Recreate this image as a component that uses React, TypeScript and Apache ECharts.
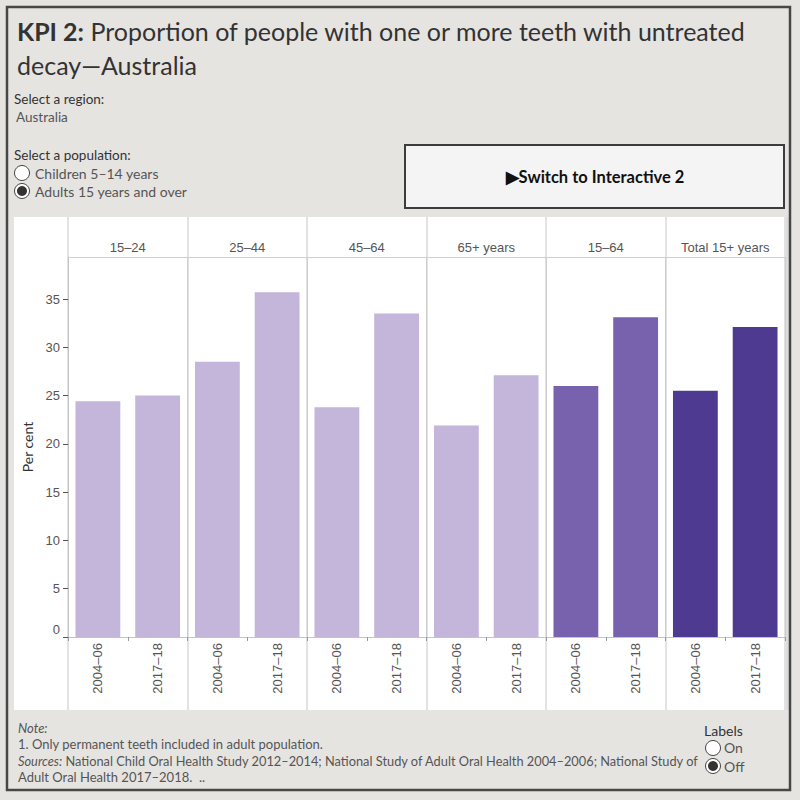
import React, { useEffect, useRef } from 'react';
import * as echarts from 'echarts';

const groups = ['15–24', '25–44', '45–64', '65+ years', '15–64', 'Total 15+ years'];
const periods = ['2004–06', '2017–18'];
const values0406 = [24.4, 28.5, 23.8, 21.9, 26.0, 25.5];
const values1718 = [25.0, 35.7, 33.5, 27.1, 33.1, 32.1];
const groupColors = ['#c4b5db', '#c4b5db', '#c4b5db', '#c4b5db', '#7862ae', '#4e3a91'];
const yTicks = [0, 5, 10, 15, 20, 25, 30, 35];
const yMax = 39.35;

const AX_FONT = '"Liberation Sans", Arial, sans-serif';
const UI_FONT = 'Lato, "Noto Sans", sans-serif';

export default function App() {
  const ref = useRef<HTMLDivElement>(null);
  useEffect(() => {
    if (!ref.current) return;
    const chart = echarts.init(ref.current, undefined, { renderer: 'svg' });

    const categories: string[] = [];
    const barData: any[] = [];
    groups.forEach((g, gi) => {
      const vals = [values0406[gi], values1718[gi]];
      periods.forEach((p, pi) => {
        categories.push(g + '|' + p);
        barData.push({ value: vals[pi], itemStyle: { color: groupColors[gi] } });
      });
    });

    const L = 68;
    const W = 717;

    const txt = (x: number, y: number, text: string, extra: any = {}) => ({
      type: 'text',
      x,
      y,
      style: {
        text,
        fill: '#444',
        font: '14px ' + UI_FONT,
        textVerticalAlign: 'middle',
        ...extra,
      },
    });

    const option: any = {
      animation: false,
      backgroundColor: '#e6e4e1',
      grid: [
        { left: L, top: 217, width: W, height: 493, outerBoundsMode: 'none' },
        { left: L, top: 217, width: W, height: 40, outerBoundsMode: 'none' },
        { left: L, top: 257, width: W, height: 380, outerBoundsMode: 'none' },
      ],
      xAxis: [
        {
          gridIndex: 0,
          type: 'category',
          data: groups,
          axisLine: { show: false },
          axisTick: { show: false },
          axisLabel: { show: false },
          splitLine: { show: true, lineStyle: { color: '#e2e2e2', width: 2 } },
        },
        {
          gridIndex: 1,
          type: 'category',
          data: groups,
          position: 'bottom',
          axisLine: { show: true, lineStyle: { color: '#d0d0d0', width: 1 } },
          axisTick: { show: false },
          axisLabel: {
            inside: true,
            margin: 3,
            color: '#555',
            fontSize: 13,
            fontFamily: AX_FONT,
          },
          splitLine: { show: false },
        },
        {
          gridIndex: 2,
          type: 'category',
          data: categories,
          axisLine: { show: true, lineStyle: { color: '#c4c4c4', width: 1 } },
          axisTick: { show: true, length: 4, lineStyle: { color: '#999' } },
          axisLabel: {
            rotate: 90,
            margin: 6,
            color: '#555',
            fontSize: 13,
            fontFamily: AX_FONT,
            interval: 0,
            formatter: (v: string) => v.split('|')[1],
          },
          splitLine: {
            show: true,
            interval: (i: number) => i % 2 === 0,
            lineStyle: { color: '#cdcdcd', width: 1 },
          },
        },
      ],
      yAxis: [
        { gridIndex: 0, type: 'value', show: false, splitLine: { show: false } },
        { gridIndex: 1, type: 'value', show: false, splitLine: { show: false } },
        {
          gridIndex: 2,
          type: 'value',
          min: 0,
          max: yMax,
          interval: 5,
          name: 'Per cent',
          nameLocation: 'middle',
          nameGap: 32,
          nameRotate: 90,
          nameTextStyle: { color: '#333', fontSize: 14, fontFamily: UI_FONT },
          axisLine: { show: true, lineStyle: { color: '#c4c4c4' } },
          axisTick: { show: true, length: 5, customValues: yTicks, lineStyle: { color: '#555' } },
          axisLabel: {
            customValues: yTicks,
            margin: 8,
            color: '#555',
            fontSize: 13,
            fontFamily: AX_FONT,
            formatter: (v: number) => (v === 0 ? '{z|0}' : String(v)),
            rich: {
              z: { padding: [0, 0, 16, 0], color: '#555', fontSize: 13, fontFamily: AX_FONT },
            },
          },
          splitLine: { show: false },
        },
      ],
      series: [
        {
          type: 'bar',
          xAxisIndex: 2,
          yAxisIndex: 2,
          data: barData,
          barCategoryGap: '25%',
          z: 3,
        },
      ],
      graphic: [
        {
          type: 'rect',
          z: -100,
          shape: { x: 14, y: 217, width: 771, height: 493 },
          style: { fill: '#ffffff' },
        },
        {
          type: 'rect',
          z: -100,
          shape: { x: 785, y: 217, width: 5, height: 493 },
          style: { fill: '#dcdcdc' },
        },
        {
          type: 'rect',
          z: 100,
          shape: { x: 7, y: 7, width: 783, height: 783 },
          style: { fill: 'none', stroke: '#474747', lineWidth: 2.5 },
        },
        {
          type: 'text',
          x: 17,
          y: 31,
          style: {
            text: '{b|KPI 2:} Proportion of people with one or more teeth with untreated',
            rich: {
              b: { font: 'bold 25px ' + UI_FONT, fill: '#333' },
            },
            font: '25px ' + UI_FONT,
            fill: '#333',
            textVerticalAlign: 'middle',
          },
        },
        txt(17, 65, 'decay—Australia', { font: '25px ' + UI_FONT, fill: '#333' }),
        txt(14, 99, 'Select a region:', { fill: '#333', font: '13.5px ' + UI_FONT }),
        txt(16, 117, 'Australia', { fill: '#555', font: '13.5px ' + UI_FONT }),
        txt(14, 155, 'Select a population:', { fill: '#333', font: '13.5px ' + UI_FONT }),
        {
          type: 'circle',
          shape: { cx: 22, cy: 173, r: 7.5 },
          style: { fill: '#ffffff', stroke: '#444', lineWidth: 1 },
        },
        txt(35, 173, 'Children 5–14 years', { fill: '#555' }),
        {
          type: 'circle',
          shape: { cx: 22, cy: 191, r: 7.5 },
          style: { fill: '#ffffff', stroke: '#444', lineWidth: 1 },
        },
        {
          type: 'circle',
          shape: { cx: 22, cy: 191, r: 5 },
          style: { fill: '#333' },
        },
        txt(35, 191, 'Adults 15 years and over', { fill: '#555' }),
        {
          type: 'rect',
          shape: { x: 405, y: 145, width: 379, height: 63 },
          style: { fill: '#f4f4f4', stroke: '#3c3c3c', lineWidth: 2 },
        },
        {
          type: 'text',
          x: 595,
          y: 177,
          style: {
            text: '▶Switch to Interactive 2',
            font: 'bold 16.5px ' + UI_FONT,
            fill: '#111',
            textAlign: 'center',
            textVerticalAlign: 'middle',
          },
        },
        txt(18, 728, 'Note:', { font: 'italic 13px ' + UI_FONT, fill: '#555' }),
        txt(18, 744, '1. Only permanent teeth included in adult population.', { fill: '#555', font: '13px ' + UI_FONT }),
        {
          type: 'text',
          x: 18,
          y: 761,
          style: {
            text: '{i|Sources:} National Child Oral Health Study 2012–2014; National Study of Adult Oral Health 2004–2006; National Study of',
            rich: { i: { font: 'italic 12.8px ' + UI_FONT, fill: '#555' } },
            font: '12.8px ' + UI_FONT,
            fill: '#555',
            textVerticalAlign: 'middle',
          },
        },
        txt(18, 777, 'Adult Oral Health 2017–2018.  ..', { fill: '#555', font: '13px ' + UI_FONT }),
        txt(704, 730, 'Labels', { fill: '#333' }),
        {
          type: 'circle',
          shape: { cx: 713, cy: 748, r: 7.5 },
          style: { fill: '#ffffff', stroke: '#444', lineWidth: 1 },
        },
        txt(724, 747, 'On', { fill: '#555' }),
        {
          type: 'circle',
          shape: { cx: 713, cy: 766, r: 7.5 },
          style: { fill: '#ffffff', stroke: '#444', lineWidth: 1 },
        },
        {
          type: 'circle',
          shape: { cx: 713, cy: 766, r: 5 },
          style: { fill: '#333' },
        },
        txt(724, 766, 'Off', { fill: '#555' }),
      ],
    };

    chart.setOption(option);
    return () => chart.dispose();
  }, []);

  return (
    <div
      ref={ref}
      style={{ position: 'fixed', left: 0, top: 0, width: 800, height: 800 }}
    />
  );
}
